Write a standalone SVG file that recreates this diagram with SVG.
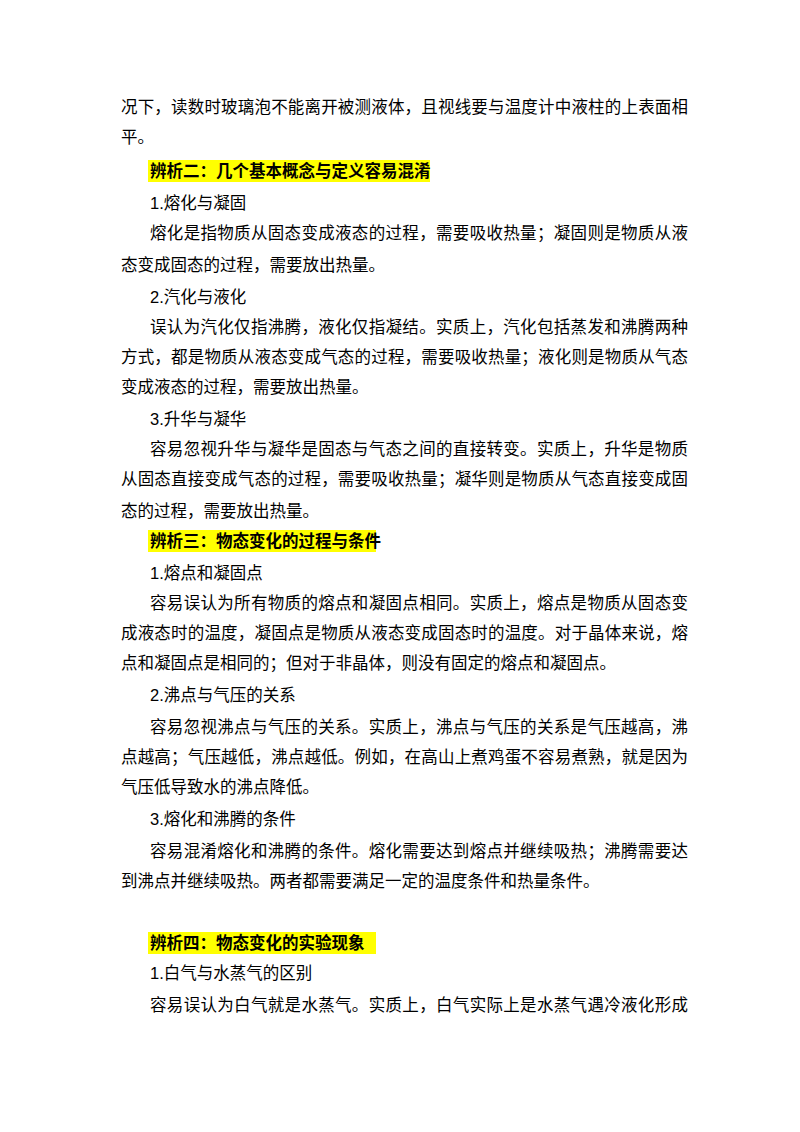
<svg xmlns="http://www.w3.org/2000/svg" width="800" height="1132" viewBox="0 0 800 1132">
<style>
text{font-family:"Liberation Sans","Noto Sans CJK SC",sans-serif;font-size:16.5px;fill:#000}
.h{font-weight:bold}
.hl{fill:#ffff00}
</style>
<rect width="800" height="1132" fill="#fff"/>
<rect class="hl" x="148" y="160" width="282" height="22"/>
<rect class="hl" x="148" y="530" width="228" height="22"/>
<rect class="hl" x="148" y="932" width="228" height="22"/>
<text x="121" y="113" textLength="567" lengthAdjust="spacing">况下，读数时玻璃泡不能离开被测液体，且视线要与温度计中液柱的上表面相</text>
<text x="121" y="143">平。</text>
<text class="h" x="150" y="177">辨析二：几个基本概念与定义容易混淆</text>
<text x="150" y="209">1.熔化与凝固</text>
<text x="150" y="239" textLength="538" lengthAdjust="spacing">熔化是指物质从固态变成液态的过程，需要吸收热量；凝固则是物质从液</text>
<text x="121" y="271">态变成固态的过程，需要放出热量。</text>
<text x="150" y="303">2.汽化与液化</text>
<text x="150" y="333" textLength="538" lengthAdjust="spacing">误认为汽化仅指沸腾，液化仅指凝结。实质上，汽化包括蒸发和沸腾两种</text>
<text x="121" y="363" textLength="567" lengthAdjust="spacing">方式，都是物质从液态变成气态的过程，需要吸收热量；液化则是物质从气态</text>
<text x="121" y="393">变成液态的过程，需要放出热量。</text>
<text x="150" y="425">3.升华与凝华</text>
<text x="150" y="455" textLength="538" lengthAdjust="spacing">容易忽视升华与凝华是固态与气态之间的直接转变。实质上，升华是物质</text>
<text x="121" y="485" textLength="567" lengthAdjust="spacing">从固态直接变成气态的过程，需要吸收热量；凝华则是物质从气态直接变成固</text>
<text x="121" y="517">态的过程，需要放出热量。</text>
<text class="h" x="150" y="547">辨析三：物态变化的过程与条件</text>
<text x="150" y="579">1.熔点和凝固点</text>
<text x="150" y="609" textLength="538" lengthAdjust="spacing">容易误认为所有物质的熔点和凝固点相同。实质上，熔点是物质从固态变</text>
<text x="121" y="639" textLength="567" lengthAdjust="spacing">成液态时的温度，凝固点是物质从液态变成固态时的温度。对于晶体来说，熔</text>
<text x="121" y="669">点和凝固点是相同的；但对于非晶体，则没有固定的熔点和凝固点。</text>
<text x="150" y="701">2.沸点与气压的关系</text>
<text x="150" y="733" textLength="538" lengthAdjust="spacing">容易忽视沸点与气压的关系。实质上，沸点与气压的关系是气压越高，沸</text>
<text x="121" y="763" textLength="567" lengthAdjust="spacing">点越高；气压越低，沸点越低。例如，在高山上煮鸡蛋不容易煮熟，就是因为</text>
<text x="121" y="793">气压低导致水的沸点降低。</text>
<text x="150" y="825">3.熔化和沸腾的条件</text>
<text x="150" y="857" textLength="538" lengthAdjust="spacing">容易混淆熔化和沸腾的条件。熔化需要达到熔点并继续吸热；沸腾需要达</text>
<text x="121" y="887">到沸点并继续吸热。两者都需要满足一定的温度条件和热量条件。</text>
<text class="h" x="150" y="949">辨析四：物态变化的实验现象</text>
<text x="150" y="979">1.白气与水蒸气的区别</text>
<text x="150" y="1011" textLength="538" lengthAdjust="spacing">容易误认为白气就是水蒸气。实质上，白气实际上是水蒸气遇冷液化形成</text>
</svg>
